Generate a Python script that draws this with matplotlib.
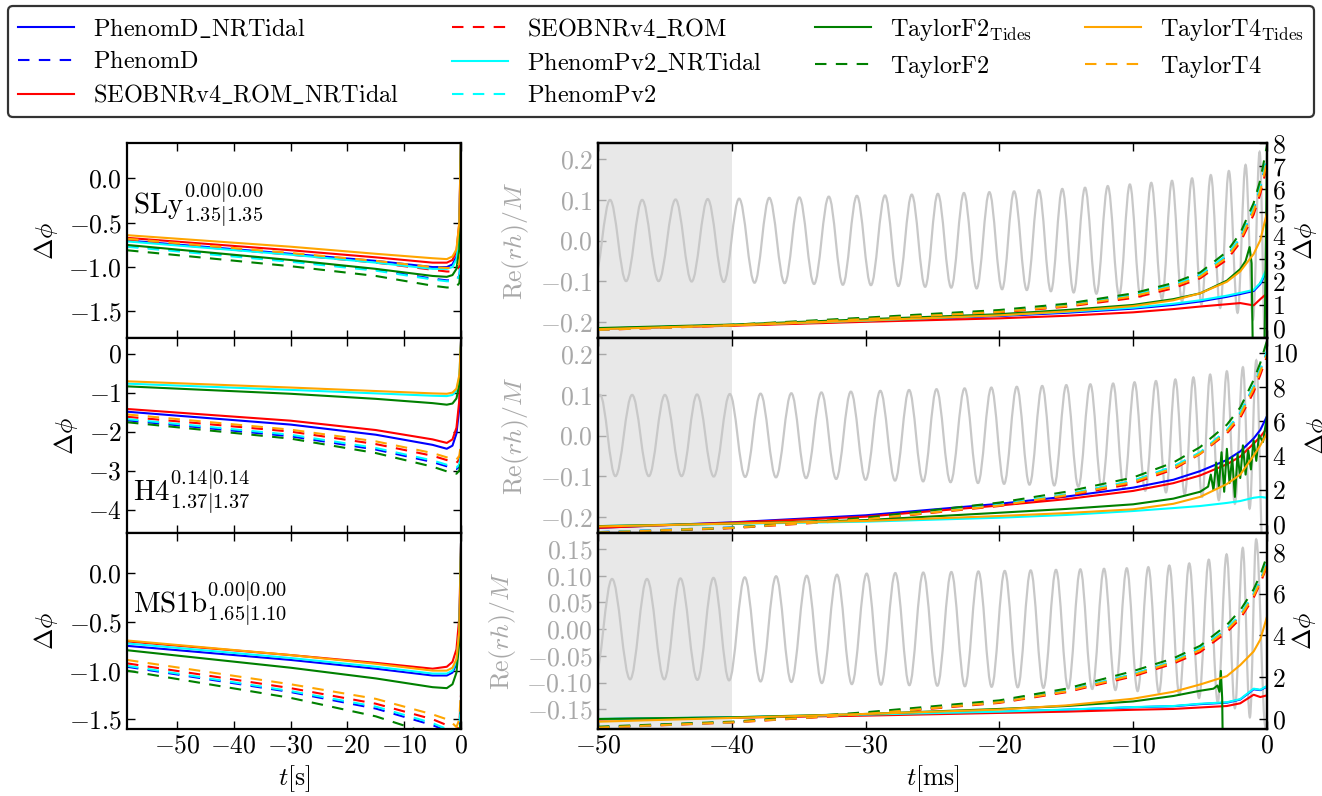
import matplotlib.pyplot as plt
from matplotlib.path import Path
from matplotlib.patches import PathPatch
from matplotlib.lines import Line2D

plt.rcParams.update({
    'font.family': 'serif',
    'font.serif': ['cmr10', 'DejaVu Serif'],
    'mathtext.fontset': 'cm',
    'axes.formatter.use_mathtext': True,
    'font.size': 18.5,
    'axes.linewidth': 1.6,
})

# models, colours, line styles
models = [r'$\mathrm{PhenomD\_NRTidal}$', r'$\mathrm{PhenomD}$',
          r'$\mathrm{SEOBNRv4\_ROM\_NRTidal}$', r'$\mathrm{SEOBNRv4\_ROM}$',
          r'$\mathrm{PhenomPv2\_NRTidal}$', r'$\mathrm{PhenomPv2}$',
          r'$\mathrm{TaylorF2}_{\mathrm{Tides}}$', r'$\mathrm{TaylorF2}$',
          r'$\mathrm{TaylorT4}_{\mathrm{Tides}}$', r'$\mathrm{TaylorT4}$']
colors = ['blue', 'blue', 'red', 'red', 'cyan', 'cyan', 'green', 'green', 'orange', 'orange']
dashed = [False, True] * 5

# ---- left column: dphi vs t[s] ----
t_left = [-58.8, -30, -15, -5, -2.5, -1.5, -0.8, -0.3, 0]
sly_left = [
    [-0.70, -0.85, -0.93, -1.00, -1.00, -0.97, -0.88, -0.60, 0.5],
    [-0.76, -0.93, -1.03, -1.13, -1.15, -1.15, -1.14, -1.10, -0.9],
    [-0.67, -0.81, -0.89, -0.95, -0.95, -0.92, -0.82, -0.50, 0.5],
    [-0.70, -0.86, -0.95, -1.03, -1.05, -1.05, -1.04, -1.00, -0.85],
    [-0.71, -0.86, -0.95, -1.02, -1.02, -1.00, -0.91, -0.65, 0.5],
    [-0.77, -0.94, -1.04, -1.14, -1.16, -1.16, -1.15, -1.10, -0.9],
    [-0.75, -0.92, -1.02, -1.10, -1.11, -1.09, -1.02, -0.80, 0.4],
    [-0.81, -0.99, -1.10, -1.21, -1.23, -1.23, -1.22, -1.18, -1.0],
    [-0.64, -0.77, -0.85, -0.90, -0.91, -0.88, -0.80, -0.50, 0.5],
    [-0.68, -0.84, -0.93, -1.00, -1.01, -1.01, -1.00, -0.96, -0.8],
]
h4_left = [
    [-1.49, -1.82, -2.08, -2.34, -2.44, -2.36, -2.05, -1.40, 0.3],
    [-1.71, -2.12, -2.46, -2.78, -2.89, -2.94, -2.96, -2.90, -2.6],
    [-1.42, -1.72, -1.96, -2.20, -2.29, -2.20, -1.90, -1.20, 0.3],
    [-1.62, -2.00, -2.32, -2.62, -2.73, -2.78, -2.80, -2.72, -2.4],
    [-0.77, -0.93, -1.02, -1.08, -1.09, -1.06, -0.95, -0.60, 0.3],
    [-1.68, -2.08, -2.42, -2.74, -2.85, -2.90, -2.92, -2.85, -2.55],
    [-0.84, -1.03, -1.16, -1.27, -1.31, -1.28, -1.15, -0.80, 0.2],
    [-1.76, -2.18, -2.55, -2.90, -3.02, -3.07, -3.08, -3.00, -2.7],
    [-0.71, -0.87, -0.96, -1.02, -1.03, -1.00, -0.90, -0.55, 0.3],
    [-1.56, -1.95, -2.25, -2.55, -2.66, -2.70, -2.72, -2.62, -2.3],
]
ms1b_left = [
    [-0.745, -0.89, -0.98, -1.05, -1.05, -1.02, -0.93, -0.65, 0.3],
    [-0.96, -1.22, -1.39, -1.56, -1.62, -1.66, -1.70, -1.62, -1.3],
    [-0.70, -0.84, -0.92, -0.98, -0.96, -0.91, -0.78, -0.45, 0.3],
    [-0.925, -1.18, -1.34, -1.50, -1.56, -1.60, -1.64, -1.55, -1.25],
    [-0.72, -0.87, -0.96, -1.03, -1.03, -1.00, -0.90, -0.60, 0.3],
    [-0.95, -1.21, -1.37, -1.54, -1.60, -1.64, -1.68, -1.60, -1.3],
    [-0.79, -0.97, -1.08, -1.17, -1.18, -1.14, -1.02, -0.70, 0.2],
    [-1.00, -1.28, -1.47, -1.66, -1.73, -1.77, -1.80, -1.70, -1.4],
    [-0.69, -0.84, -0.93, -1.00, -1.00, -0.97, -0.88, -0.60, 0.3],
    [-0.89, -1.14, -1.29, -1.45, -1.50, -1.54, -1.58, -1.50, -1.2],
]

# ---- right column: dphi vs t[ms] ----
t_right = [-50, -40, -30, -20, -15, -10, -7, -5, -3, -2, -1, -0.5, 0]
sly_right = [
    [-0.03, 0.12, 0.30, 0.52, 0.66, 0.84, 1.00, 1.15, 1.35, 1.47, 1.60, 1.90, 2.5],
    [-0.07, 0.13, 0.41, 0.72, 0.97, 1.41, 1.85, 2.28, 3.12, 3.88, 5.15, 6.05, 7.35],
    [-0.02, 0.10, 0.27, 0.42, 0.53, 0.68, 0.82, 0.93, 1.03, 1.08, 0.98, 1.25, 1.5],
    [-0.08, 0.11, 0.37, 0.68, 0.92, 1.30, 1.72, 2.15, 2.95, 3.70, 4.90, 5.80, 7.0],
    [-0.02, 0.13, 0.32, 0.55, 0.70, 0.88, 1.05, 1.20, 1.40, 1.52, 1.65, 1.95, 2.6],
    [-0.07, 0.13, 0.41, 0.73, 0.98, 1.42, 1.86, 2.30, 3.15, 3.90, 5.20, 6.10, 7.4],
    None,
    [-0.05, 0.14, 0.45, 0.78, 1.05, 1.50, 1.95, 2.40, 3.30, 4.10, 5.40, 6.40, 7.9],
    [-0.05, 0.12, 0.33, 0.55, 0.72, 0.95, 1.20, 1.50, 2.00, 2.45, 3.20, 3.80, 5.0],
    [-0.08, 0.12, 0.39, 0.70, 0.95, 1.37, 1.80, 2.22, 3.05, 3.80, 5.05, 5.95, 7.2],
]
sly_f2t_t = [-50, -40, -30, -20, -15, -10, -7, -5, -3, -2, -1.6, -1.3, -1.15, -1.05, -0.2, 0]
sly_f2t = [0.0, 0.15, 0.38, 0.60, 0.78, 1.00, 1.25, 1.50, 2.05, 2.55, 2.9, 3.5, 2.8, -1.5, -1.5, 7.6]

h4_right = [
    [-0.20, 0.12, 0.53, 1.20, 1.62, 2.14, 2.60, 3.10, 3.75, 4.25, 5.00, 5.50, 6.3],
    [-0.45, -0.18, 0.31, 1.13, 1.73, 2.52, 3.35, 4.15, 5.45, 6.45, 8.0, 9.0, 10.0],
    [-0.20, 0.10, 0.45, 1.10, 1.47, 1.95, 2.40, 2.85, 3.50, 3.95, 4.70, 5.10, 5.6],
    [-0.48, -0.22, 0.28, 1.07, 1.65, 2.38, 3.20, 4.10, 5.30, 6.20, 7.70, 8.70, 9.8],
    [-0.10, 0.03, 0.16, 0.39, 0.55, 0.78, 0.95, 1.07, 1.25, 1.36, 1.55, 1.60, 1.55],
    [-0.45, -0.18, 0.32, 1.15, 1.75, 2.55, 3.38, 4.20, 5.50, 6.50, 8.05, 9.05, 10.1],
    None,
    [-0.50, -0.20, 0.39, 1.27, 1.90, 2.73, 3.60, 4.50, 5.80, 6.80, 8.40, 9.40, 10.7],
    [-0.12, 0.05, 0.20, 0.49, 0.66, 0.88, 1.20, 1.60, 2.35, 2.90, 4.00, 4.60, 5.3],
    [-0.47, -0.20, 0.30, 1.10, 1.70, 2.47, 3.28, 4.12, 5.40, 6.35, 7.90, 8.90, 9.9],
]
h4_f2t_t = [-50, -40, -30, -20, -15, -10, -7, -5, -4.4, -4.2, -4.0, -3.8, -3.6, -3.4,
            -3.2, -3.0, -2.8, -2.6, -2.4, -2.2, -2.0, -1.8, -1.6, -1.4, -1.2, -1.0,
            -0.8, -0.6, -0.3, 0]
h4_f2t = [-0.1, 0.05, 0.25, 0.68, 0.90, 1.17, 1.50, 1.90, 2.2, 2.9, 2.0, 3.6, 2.2, 4.2,
          1.9, 4.4, 2.4, 3.9, 1.6, 4.1, 2.7, 4.6, 2.9, 4.3, 3.2, 4.9, 3.7, 5.2, 4.8, 6.3]

ms1b_right = [
    [-0.01, 0.07, 0.20, 0.34, 0.44, 0.56, 0.61, 0.71, 0.78, 0.93, 1.42, 1.38, 1.55],
    [-0.40, -0.15, 0.25, 0.81, 1.34, 2.13, 2.75, 3.35, 4.30, 4.95, 5.95, 6.60, 7.45],
    [-0.02, 0.06, 0.16, 0.29, 0.35, 0.44, 0.48, 0.55, 0.62, 0.75, 1.16, 1.05, 1.13],
    [-0.42, -0.17, 0.22, 0.77, 1.28, 2.04, 2.65, 3.20, 4.15, 4.80, 5.80, 6.50, 7.3],
    [0.00, 0.08, 0.21, 0.35, 0.45, 0.57, 0.62, 0.73, 0.80, 0.95, 1.45, 1.40, 1.58],
    [-0.40, -0.15, 0.26, 0.82, 1.35, 2.15, 2.77, 3.38, 4.33, 4.98, 6.00, 6.65, 7.5],
    None,
    [-0.37, -0.13, 0.32, 0.89, 1.45, 2.29, 2.90, 3.50, 4.50, 5.20, 6.20, 6.90, 7.8],
    [-0.13, 0.05, 0.24, 0.45, 0.65, 0.97, 1.30, 1.65, 2.05, 2.58, 3.23, 3.80, 4.9],
    [-0.41, -0.16, 0.24, 0.80, 1.32, 2.10, 2.72, 3.30, 4.25, 4.90, 5.90, 6.55, 7.4],
]
ms1b_f2t_t = [-50, -40, -30, -20, -15, -10, -7, -5, -4.0, -3.7, -3.55, -3.45, -3.35, -3.3, 0]
ms1b_f2t = [0.0, 0.08, 0.24, 0.48, 0.62, 0.84, 1.10, 1.35, 1.45, 1.6, 1.3, 2.3, 1.0, -1.5, -1.5]

# ---- gray waveform: times/heights of maxima and minima ----
sly_peak_t = [-49.1, -46.7, -44.2, -41.8, -39.45, -37.2, -34.95, -32.75, -30.65, -28.55,
              -26.55, -24.6, -22.65, -20.75, -18.9, -17.05, -15.3, -13.6, -11.9, -10.25,
              -8.65, -7.1, -5.6, -4.2, -2.85, -1.6, -0.55]
sly_peak_h = [0.100, 0.100, 0.101, 0.102, 0.103, 0.105, 0.106, 0.108, 0.110, 0.111, 0.113,
              0.115, 0.117, 0.119, 0.121, 0.124, 0.127, 0.130, 0.134, 0.138, 0.142, 0.147,
              0.153, 0.161, 0.171, 0.186, 0.218]
sly_trough_t = [-50.3, -47.9, -45.47, -43.0, -40.6, -38.3, -36.05, -33.85, -31.7, -29.6,
                -27.55, -25.55, -23.6, -21.7, -19.8, -17.95, -16.15, -14.45, -12.75, -11.05,
                -9.45, -7.85, -6.35, -4.9, -3.5, -2.2, -1.05, -0.1]
sly_trough_h = [-0.100, -0.100, -0.100, -0.101, -0.102, -0.104, -0.105, -0.107, -0.109,
                -0.110, -0.112, -0.114, -0.116, -0.118, -0.120, -0.122, -0.125, -0.128,
                -0.131, -0.135, -0.139, -0.144, -0.150, -0.157, -0.166, -0.178, -0.195, -0.30]

h4_peak_t = [-49.85, -47.45, -45.0, -42.6, -40.15, -37.85, -35.55, -33.3, -31.1, -28.9,
             -26.75, -24.7, -22.6, -20.6, -18.7, -16.8, -15.0, -13.2, -11.5, -9.9, -8.3,
             -6.85, -5.5, -4.25, -3.0, -1.8, -0.8]
h4_peak_h = [0.100, 0.100, 0.100, 0.101, 0.102, 0.103, 0.104, 0.106, 0.108, 0.110, 0.112,
             0.114, 0.116, 0.118, 0.120, 0.122, 0.124, 0.126, 0.128, 0.131, 0.134, 0.138,
             0.143, 0.150, 0.158, 0.168, 0.185]
h4_trough_t = [-51.1, -48.7, -46.2, -43.75, -41.35, -39.0, -36.7, -34.45, -32.2, -30.0, -27.8,
               -25.7, -23.65, -21.6, -19.65, -17.75, -15.9, -14.1, -12.35, -10.7, -9.1,
               -7.55, -6.15, -4.85, -3.6, -2.4, -1.3, -0.3]
h4_trough_h = [-0.100, -0.100, -0.100, -0.100, -0.101, -0.102, -0.103, -0.105, -0.107,
               -0.109, -0.111, -0.113, -0.115, -0.117, -0.119, -0.121, -0.123, -0.126,
               -0.129, -0.132, -0.136, -0.140, -0.145, -0.151, -0.159, -0.168, -0.180, -0.30]

ms1b_peak_t = [-48.95, -46.34, -43.84, -41.37, -39.03, -36.69, -34.40, -32.14, -29.92,
               -27.78, -25.69, -23.59, -21.57, -19.60, -17.66, -15.77, -13.95, -12.18,
               -10.48, -8.87, -7.30, -5.81, -4.35, -3.02, -1.81, -0.81]
ms1b_peak_h = [0.094, 0.094, 0.095, 0.096, 0.097, 0.099, 0.100, 0.102, 0.104, 0.105, 0.106,
               0.107, 0.108, 0.109, 0.110, 0.111, 0.112, 0.113, 0.114, 0.116, 0.119, 0.123,
               0.130, 0.140, 0.152, 0.168]
ms1b_trough_t = [-50.25, -47.6, -45.05, -42.57, -40.2, -37.85, -35.55, -33.27, -31.03,
                 -28.85, -26.73, -24.64, -22.58, -20.58, -18.63, -16.71, -14.86, -13.06,
                 -11.33, -9.67, -8.08, -6.55, -5.08, -3.68, -2.4, -1.28, -0.1]
ms1b_trough_h = [-0.094, -0.094, -0.094, -0.095, -0.096, -0.098, -0.099, -0.101, -0.103,
                 -0.104, -0.105, -0.106, -0.107, -0.108, -0.109, -0.110, -0.111, -0.112,
                 -0.114, -0.116, -0.119, -0.123, -0.129, -0.137, -0.148, -0.165, -0.185]

eos_labels = [r'$\mathrm{SLy}^{0.00|0.00}_{1.35|1.35}$',
              r'$\mathrm{H4}^{0.14|0.14}_{1.37|1.37}$',
              r'$\mathrm{MS1b}^{0.00|0.00}_{1.65|1.10}$']


def wave_path(peak_t, peak_h, trough_t, trough_h):
    # smooth curve through the extrema (cubic Bezier, flat at each extremum)
    pts = [(trough_t[0], trough_h[0])]
    for i in range(len(peak_t)):
        pts.append((peak_t[i], peak_h[i]))
        if i + 1 < len(trough_t):
            pts.append((trough_t[i + 1], trough_h[i + 1]))
    k = 0.3634
    verts = [pts[0]]
    codes = [Path.MOVETO]
    for (t0, v0), (t1, v1) in zip(pts[:-1], pts[1:]):
        d = t1 - t0
        verts += [(t0 + k * d, v0), (t1 - k * d, v1), (t1, v1)]
        codes += [Path.CURVE4] * 3
    return Path(verts, codes)


W, H = 1322, 796
fig = plt.figure(figsize=(W / 100, H / 100), dpi=100)

rows = [(143, 338), (338, 533), (533, 729)]
lx0, lx1 = 127, 461
rx0, rx1 = 598, 1267


def frac(x0, x1, y0, y1):
    return [x0 / W, 1 - y1 / H, (x1 - x0) / W, (y1 - y0) / H]


left_data = [sly_left, h4_left, ms1b_left]
left_ylim = [(-1.8, 0.4), (-4.6, 0.4), (-1.6, 0.415)]
left_yticks = [[0, -0.5, -1.0, -1.5], [0, -1, -2, -3, -4], [0, -0.5, -1.0, -1.5]]
label_y = [0.685, 0.21, 0.64]

right_data = [sly_right, h4_right, ms1b_right]
right_f2t = [(sly_f2t_t, sly_f2t), (h4_f2t_t, h4_f2t), (ms1b_f2t_t, ms1b_f2t)]
waves = [(sly_peak_t, sly_peak_h, sly_trough_t, sly_trough_h),
         (h4_peak_t, h4_peak_h, h4_trough_t, h4_trough_h),
         (ms1b_peak_t, ms1b_peak_h, ms1b_trough_t, ms1b_trough_h)]
wave_ylim = [(-0.24, 0.24), (-0.24, 0.24), (-0.187, 0.18)]
wave_yticks = [[-0.2, -0.1, 0.0, 0.1, 0.2], [-0.2, -0.1, 0.0, 0.1, 0.2],
               [-0.15, -0.10, -0.05, 0.0, 0.05, 0.10, 0.15]]
dphi_ylim = [(-0.43, 8.0), (-0.5, 10.85), (-0.48, 8.9)]
dphi_yticks = [list(range(0, 9)), [0, 2, 4, 6, 8, 10], [0, 2, 4, 6, 8]]

gray_txt = '#a8a8a8'
dash = (0, (5.5, 4.5))

for r, (y0, y1) in enumerate(rows):
    # left panel
    ax = fig.add_axes(frac(lx0, lx1, y0, y1))
    for i in range(10):
        ax.plot(t_left, left_data[r][i], color=colors[i], lw=1.5,
                linestyle=dash if dashed[i] else '-')
    ax.set_xlim(-58.8, 0)
    ax.set_ylim(*left_ylim[r])
    ax.set_yticks(left_yticks[r])
    ax.set_xticks([-50, -40, -30, -20, -10, 0])
    ax.tick_params(direction='in', top=True, right=True, length=6, width=1)
    ax.set_ylabel(r'$\Delta\phi$', labelpad=6)
    ax.text(0.018, label_y[r], eos_labels[r], transform=ax.transAxes,
            fontsize=21, va='center', ha='left')
    if r < 2:
        ax.tick_params(labelbottom=False)
    else:
        ax.set_xlabel(r'$t[\mathrm{s}]$')

    # right panel: waveform (left axis) + dphi (twin right axis)
    axw = fig.add_axes(frac(rx0, rx1, y0, y1))
    axw.axvspan(-50, -40, color='#e8e8e8', lw=0, zorder=0)
    axw.add_patch(PathPatch(wave_path(*waves[r]), fill=False,
                            edgecolor='#c8c8c8', lw=1.6, zorder=2))
    axw.set_xlim(-50, 0)
    axw.set_ylim(*wave_ylim[r])
    axw.set_yticks(wave_yticks[r])
    axw.set_xticks([-50, -40, -30, -20, -10, 0])
    axw.tick_params(axis='y', direction='in', length=6, width=1,
                    colors=gray_txt, labelcolor=gray_txt)
    axw.tick_params(axis='x', direction='in', top=True, length=6, width=1)
    axw.set_ylabel(r'$\mathrm{Re}(rh)/M$', color=gray_txt, labelpad=6)
    if r < 2:
        axw.tick_params(labelbottom=False)
    else:
        axw.set_xlabel(r'$t[\mathrm{ms}]$')

    axp = axw.twinx()
    for i in range(10):
        if right_data[r][i] is None:
            tt, yy = right_f2t[r]
        else:
            tt, yy = t_right, right_data[r][i]
        axp.plot(tt, yy, color=colors[i], lw=1.5,
                 linestyle=dash if dashed[i] else '-')
    axp.set_xlim(-50, 0)
    axp.set_ylim(*dphi_ylim[r])
    axp.set_yticks(dphi_yticks[r])
    axp.tick_params(direction='in', length=6, width=1)
    axp.set_ylabel(r'$\Delta\phi$', labelpad=3)

# legend across the top
handles = [Line2D([], [], color=colors[i], lw=1.5, linestyle=dash if dashed[i] else '-')
           for i in range(10)]
leg = fig.legend(handles, models, ncol=4, loc='upper left',
                 bbox_to_anchor=(8 / W, 1 - 125 / H, (1314 - 8) / W, 119 / H),
                 mode='expand', borderaxespad=0, fontsize=17.5, frameon=True,
                 fancybox=True, handlelength=2.3, labelspacing=0.42)
leg.get_frame().set_edgecolor('black')
leg.get_frame().set_linewidth(1.6)

fig.savefig('out.png', dpi=100)
